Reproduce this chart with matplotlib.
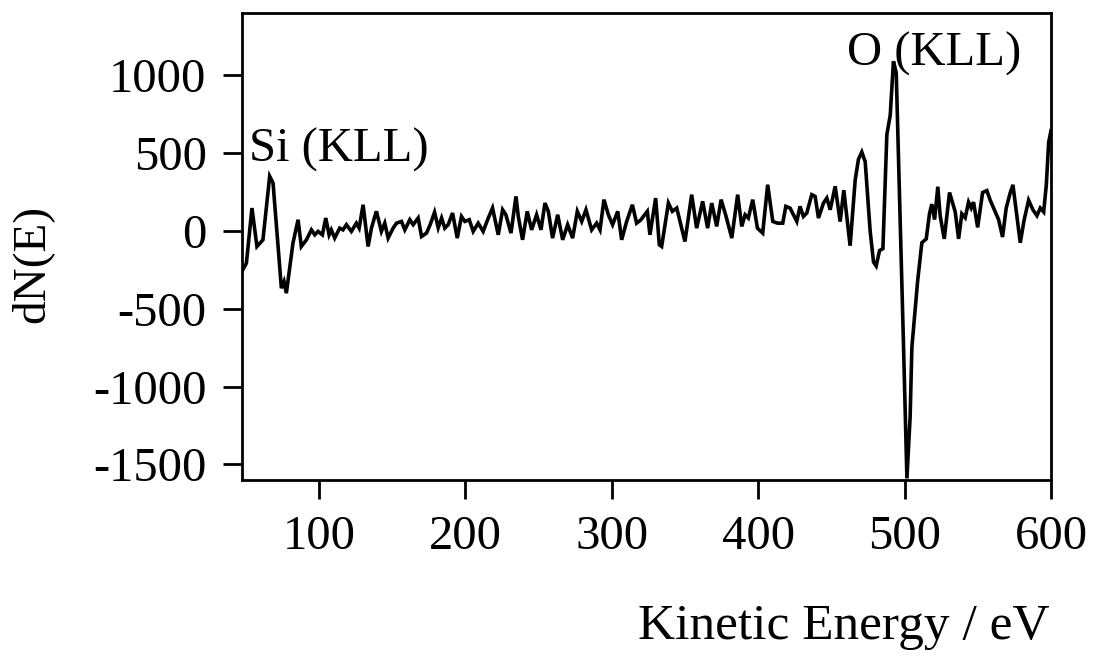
import matplotlib
matplotlib.use("Agg")
import matplotlib.pyplot as plt

plt.rcParams['font.family'] = ['Liberation Serif', 'DejaVu Serif']
plt.rcParams['axes.unicode_minus'] = False

# Auger spectrum, derivative mode: kinetic energy (eV) and dN(E)
energy = [48, 50.5, 54.3, 57.7, 61.8, 66.4, 68.7, 74.4, 76.2, 77.8,
          82.3, 85.8, 88.0, 91.5, 94.9, 97.2, 99.4, 102.4, 104.7, 107.0,
          108.5, 110.8, 114.2, 116.5, 118.8, 122.2, 125.6, 127.5, 130.2, 133.6,
          135.9, 138.2, 139.3, 142.7, 145.0, 147.3, 150.7, 153.0, 156.4, 158.7,
          162.1, 164.4, 167.8, 170.1, 173.5, 176.0, 179.0, 181.5, 183.8, 186.0,
          188.3, 191.3, 194.5, 197.4, 199.7, 202.7, 205.4, 208.8, 212.2, 215.7,
          218.6, 222.5, 225.5, 227.7, 231.2, 234.6, 236.2, 239.1, 242.3, 245.3,
          248.7, 251.7, 254.4, 256.7, 259.6, 263.1, 266.5, 269.9, 273.3, 276.5,
          279.5, 282.4, 286.3, 289.7, 292.0, 294.7, 297.7, 300.6, 304.1, 306.8,
          310.2, 314.1, 317.0, 319.8, 321.6, 324.3, 326.1, 330.0, 332.5, 334.1,
          338.7, 341.4, 344.4, 350.0, 354.6, 358.0, 362.1, 365.5, 368.3, 371.7,
          374.7, 378.1, 382.0, 386.0, 388.8, 391.1, 393.3, 396.3, 399.5, 403.1,
          406.5, 410.0, 413.2, 416.8, 418.9, 421.8, 426.4, 428.6, 430.9, 433.2,
          436.6, 438.9, 441.2, 444.6, 446.9, 449.2, 452.6, 456.0, 458.5, 462.8,
          466.3, 468.5, 470.8, 473.1, 476.5, 478.8, 480.6, 482.9, 485.2, 487.9,
          490.2, 492.4, 494.3, 496.5, 499.3, 501.6, 503.8, 505.0, 508.9, 511.8,
          514.8, 517.0, 518.6, 520.5, 522.7, 524.3, 527.1, 530.7, 534.6, 536.9,
          539.1, 541.4, 543.7, 545.5, 547.1, 549.9, 553.3, 556.2, 558.5, 561.9,
          564.2, 566.9, 569.4, 572.2, 574.0, 576.7, 579.0, 581.7, 584.7, 587.7,
          590.4, 592.7, 595.0, 596.8, 598.4, 600.0]
dNE = [-250, -207, 147, -100, -57, 351, 308, -368, -325, -400,
       -78, 72, -100, -57, 7, -25, -3, -25, 83, -25,
       7, -46, 18, 7, 40, -3, 50, 18, 168, -100,
       18, 93, 126, -3, 50, -46, 18, 50, 61, 7,
       72, 40, 83, -36, -14, 40, 120, 20, 83, 18,
       40, 115, -46, 93, 61, 72, -3, 50, -3, 83,
       147, -25, 136, 104, -14, 222, 93, -57, 126, 7,
       104, 7, 179, 126, -46, 104, -57, 40, -46, 126,
       61, 136, 7, 50, 7, 201, 104, 40, 126, -57,
       61, 168, 50, 70, 93, 126, -25, 211, -89, -100,
       179, 126, 147, -68, 233, 18, 190, 18, 179, 29,
       201, 93, -46, 233, 29, 104, 83, 201, 18, -14,
       297, 61, 50, 50, 158, 147, 61, 158, 93, 115,
       233, 222, 83, 179, 211, 136, 287, 60, 262, -95,
       330, 460, 507, 445, -2, -200, -225, -126, -114, 619,
       743, 1090, 1016, 247, -746, -1590, -1193, -746, -324, -76,
       -51, 110, 172, 73, 284, 98, -51, 247, 122, -51,
       110, 85, 185, 147, 185, 23, 247, 259, 197, 122,
       73, -39, 147, 247, 296, 98, -76, 73, 197, 135,
       98, 147, 122, 296, 569, 644]

x_ticks = [100, 200, 300, 400, 500, 600]
y_ticks = [1000, 500, 0, -500, -1000, -1500]

fig = plt.figure(figsize=(10.94, 6.56), dpi=100)
ax = fig.add_axes([242 / 1094, 176 / 656, 809 / 1094, 467 / 656])

ax.plot(energy, dNE, color='black', lw=2.6, solid_joinstyle='miter')

ax.set_xlim(47.5, 600)
ax.set_ylim(-1600, 1400)
ax.set_xticks(x_ticks)
ax.set_yticks(y_ticks)
ax.tick_params(direction='out', length=13.5, width=2, labelsize=35, pad=12)
ax.tick_params(axis='x', pad=12)
for s in ax.spines.values():
    s.set_linewidth(2)

ax.text(52, 520, 'Si (KLL)', fontsize=35, ha='left', va='center')
ax.text(461, 1140, 'O (KLL)', fontsize=35, ha='left', va='center')

fig.text(1050 / 1094, 1 - 627 / 656, 'Kinetic Energy / eV', fontsize=37,
         ha='right', va='center')
fig.text(32 / 1094, 1 - 264 / 656, 'dN(E)', fontsize=34, rotation=90,
         ha='center', va='center')

fig.savefig('out.png', dpi=100)
